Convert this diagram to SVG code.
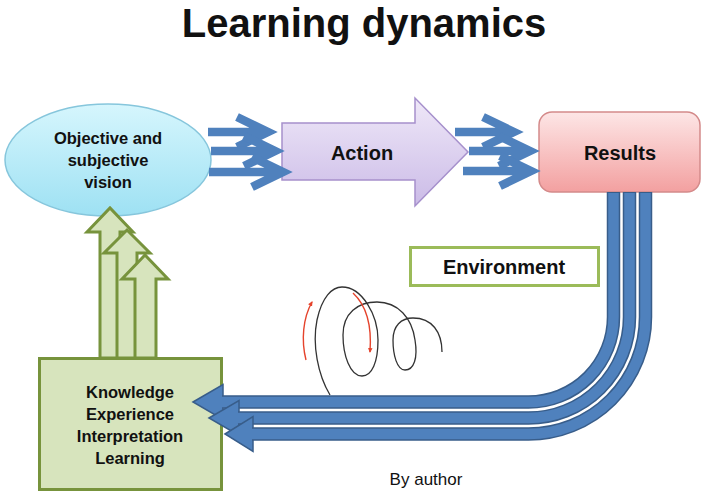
<svg xmlns="http://www.w3.org/2000/svg" width="706" height="498" viewBox="0 0 706 498">
<defs>
<linearGradient id="gEll" x1="0" y1="0" x2="0" y2="1"><stop offset="0" stop-color="#d6f6fd"/><stop offset="1" stop-color="#9ee1f3"/></linearGradient>
<linearGradient id="gAct" x1="0" y1="0" x2="0" y2="1"><stop offset="0" stop-color="#efe8f8"/><stop offset="1" stop-color="#cbbbe7"/></linearGradient>
<linearGradient id="gRes" x1="0" y1="0" x2="0" y2="1"><stop offset="0" stop-color="#fde6e6"/><stop offset="1" stop-color="#f3a0a0"/></linearGradient>
<marker id="mRed" viewBox="0 0 10 10" refX="7" refY="5" markerWidth="4" markerHeight="4" orient="auto"><path d="M0,1 L9,5 L0,9 Z" fill="#e5432c"/></marker>
<style>
.b{font-family:"Liberation Sans",Arial,sans-serif;font-weight:bold;fill:#111;text-anchor:middle}
.ch{fill:none;stroke:#4f81bd;stroke-width:8.5;stroke-linejoin:miter}
.ga{fill:#d7e4bd;stroke:#77933c;stroke-width:3;stroke-linejoin:miter}
.bo{fill:none;stroke:#385d8a;stroke-width:13.5}
.bi{fill:none;stroke:#4f81bd;stroke-width:10.5}
.bh{fill:#4f81bd;stroke:#385d8a;stroke-width:1.5;stroke-linejoin:miter}
</style>
</defs>
<rect width="706" height="498" fill="#ffffff"/>
<text x="364" y="37" class="b" font-size="40">Learning dynamics</text>

<g id="vision">
<ellipse cx="108" cy="160" rx="103" ry="56" fill="url(#gEll)" stroke="#86c6dc" stroke-width="1.5"/>
<text class="b" font-size="16.5"><tspan x="108" y="144">Objective and</tspan><tspan x="108" y="166">subjective</tspan><tspan x="108" y="188">vision</tspan></text>
</g>

<g id="action">
<path d="M282,123 H415 V98 L468,152 L415,206 V180 H282 Z" fill="url(#gAct)" stroke="#a690cc" stroke-width="1.5"/>
<text x="362" y="160" class="b" font-size="20">Action</text>
</g>

<g id="results">
<rect x="539" y="112" width="161" height="80" rx="13" fill="url(#gRes)" stroke="#d48a8a" stroke-width="1.5"/>
<text x="620" y="160" class="b" font-size="20">Results</text>
</g>

<g id="environment">
<rect x="410.5" y="247.5" width="188" height="38" fill="#ffffff" stroke="#9bbb59" stroke-width="3"/>
<text x="504" y="274" class="b" font-size="20">Environment</text>
</g>

<g id="up-arrows">
<path class="ga" d="M100,358 V232 H87 L110,208 L133,232 H120 V358 Z"/>
<path class="ga" d="M117,358 V253 H104 L127,230 L150,253 H137 V358 Z"/>
<path class="ga" d="M135,358 V279 H122 L145,255 L168,279 H156 V358 Z"/>
</g>

<g id="knowledge">
<rect x="39.5" y="358.5" width="182" height="131" fill="#d7e4bd" stroke="#77933c" stroke-width="3"/>
<text class="b" font-size="16.5"><tspan x="130" y="398">Knowledge</tspan><tspan x="130" y="420">Experience</tspan><tspan x="130" y="442">Interpretation</tspan><tspan x="130" y="464">Learning</tspan></text>
</g>

<g id="connectors">
<path class="ch" d="M208,132 H266 M237,117 L268,132 L237,147"/>
<path class="ch" d="M211,151 H273 M244,136 L275,151 L244,166"/>
<path class="ch" d="M209,172 H281 M252,157 L283,172 L252,187"/>
<path class="ch" d="M455,132 H512 M483,117 L514,132 L483,147"/>
<path class="ch" d="M469,151 H528 M499,136 L530,151 L499,166"/>
<path class="ch" d="M463,171 H529 M500,156 L531,171 L500,186"/>

<polygon class="bh" points="193,402 223,384.5 223,419.5"/>
<path class="bo" d="M222,402 H528.5 A85,85 0 0 0 613.5,317 V192"/>
<path class="bi" d="M221,402 H528.5 A85,85 0 0 0 613.5,317 V193"/>
<polygon class="bh" points="209,418 239,400.5 239,435.5"/>
<path class="bo" d="M238,418 H528.5 A101,101 0 0 0 629.5,317 V192"/>
<path class="bi" d="M237,418 H528.5 A101,101 0 0 0 629.5,317 V193"/>
<polygon class="bh" points="225,434 253,416.5 253,451.5"/>
<path class="bo" d="M252,434 H528.5 A117,117 0 0 0 645.5,317 V192"/>
<path class="bi" d="M251,434 H528.5 A117,117 0 0 0 645.5,317 V193"/>
</g>

<g id="spiral">
<path d="M330,395 C318,375 312,345 317,320 C322,297 332,287 342,287 C362,287 378,315 378,340 C378,362 372,376 362,376 C350,376 343,355 343,335 C343,313 358,302 377,302 C398,302 412,318 415,340 C418,358 414,370 405,370 C397,370 393,355 393,340 C393,326 401,318 413,318 C432,318 442,332 442,352" fill="none" stroke="#333" stroke-width="1.3"/>
<path d="M306,360 C301,340 303,318 312,302" fill="none" stroke="#e5432c" stroke-width="1.4" marker-end="url(#mRed)"/>
<path d="M353,293 C366,305 372,325 370,352" fill="none" stroke="#e5432c" stroke-width="1.4" marker-end="url(#mRed)"/>
</g>

<text x="426" y="485" font-family="Liberation Sans, Arial, sans-serif" font-size="17" text-anchor="middle" fill="#111">By author</text>
</svg>
